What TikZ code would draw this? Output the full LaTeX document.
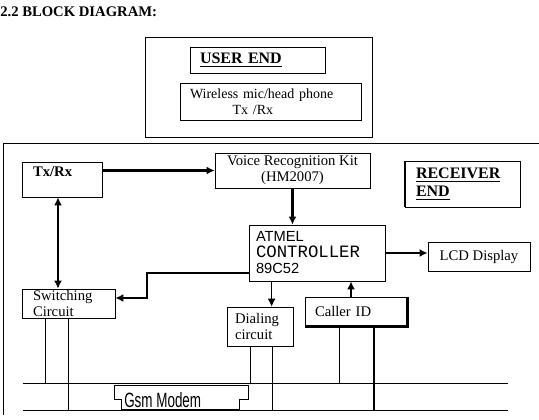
\documentclass[tikz,border=0pt]{standalone}
\usepackage{fontspec}
\usepackage{graphicx}
\setmainfont{Liberation Serif}
\newfontfamily\sansfnt{Liberation Sans}
\newfontfamily\monofnt{Liberation Mono}
\usetikzlibrary{arrows.meta,calc}
\begin{document}
\begin{tikzpicture}[x=0.75pt,y=-0.75pt]
\tikzset{blk/.style = {draw, line width=0.6pt, inner ysep=1pt, font=\fontsize{11}{12}\selectfont}}
\tikzset{wire/.style = {line width=0.6pt}}
\tikzset{link/.style = {line width=2.2pt, -{Latex[length=6pt,width=6pt]}}}
\tikzset{tlink/.style = {line width=0.7pt, -{Latex[length=6pt,width=6pt]}}}
\tikzset{dlink/.style = {line width=2.2pt, {Latex[length=6pt,width=6pt]}-{Latex[length=6pt,width=6pt]}}}
\useasboundingbox (0,0) rectangle (539,420);
% heading
\node[anchor=base west, inner sep=0pt, font=\fontsize{11}{13}\selectfont\bfseries] (title) at (0,17) {2.2 BLOCK DIAGRAM:};
% user end
\node[blk, minimum width=170.25pt, minimum height=75pt] (userframe) at (258.5,87) {};
\node[blk, font=\fontsize{12}{13}\selectfont\bfseries, align=left, text width=86.25pt, inner xsep=7.5pt, minimum height=19.5pt] (userlbl) at (257.5,60) {\underline{USER END}};
\node[blk, font=\fontsize{10.5}{12}\selectfont, align=left, text width=120.75pt, inner xsep=7.5pt, minimum height=27.75pt] (mic) at (270.5,101.5) {Wireless mic/head phone\\\hspace*{32pt}Tx /Rx};
% receiver end frame
\coordinate (fnw) at (3,143);
\coordinate (fne) at (539,143);
\coordinate (fsw) at (3,415);
\draw[wire] (fne) -- (fnw) -- (fsw);
% blocks of the receiver
\node[blk, align=left, text width=43.5pt, inner xsep=8.25pt, minimum height=26.25pt] (txrx) at (62,179.5) {\textbf{Tx/Rx}\\\mbox{}};
\node[blk, align=center, minimum width=116.25pt, minimum height=26.25pt] (voice) at (292.5,170.5) {Voice Recognition Kit\\(HM2007)};
\node[blk, font=\fontsize{12}{13.5}\selectfont\bfseries, align=left, text width=69.75pt, inner xsep=8.25pt, minimum height=34.5pt] (recv) at (462.5,184) {\underline{RECEIVER}\\\underline{END}};
\draw[line width=1.6pt] (recv.north west) -- (recv.south west);
\node[blk, align=left, text width=91.5pt, inner xsep=5.25pt, minimum height=42pt] (atmel) at (317,253) {{\sansfnt ATMEL}\\{\monofnt\fontsize{13}{12}\selectfont CONTROLLER}\\{\sansfnt 89C52}};
\node[blk, align=center, minimum width=76.5pt, minimum height=21.75pt] (lcd) at (479,256.5) {LCD Display};
\node[blk, align=left, text width=53.25pt, inner xsep=8.25pt, minimum height=21.75pt] (switch) at (68.5,303.5) {Switching\\Circuit};
\node[blk, align=left, text width=37.5pt, inner xsep=6pt, minimum height=29.25pt] (dial) at (260,326.5) {Dialing\\circuit};
\node[blk, align=left, text width=61.5pt, inner xsep=7.5pt, minimum height=21.75pt] (caller) at (356,311.5) {Caller ID};
\draw[line width=2pt] (caller.north east) -- (caller.south east) -- (caller.south west);
% arrows between blocks
\draw[link] (voice.west -| txrx.east) -- (voice.west);
\coordinate (tsx) at ($(txrx.south)+(-4,0)$);
\draw[dlink] (tsx) -- (tsx |- switch.north);
\draw[link] (voice.south) -- (voice.south |- atmel.north);
\draw[link] (atmel.east) -- (atmel.east -| lcd.west);
\coordinate (aw) at ($(atmel.south west)+(0,-8)$);
\coordinate (kink) at (147,298);
\draw[link, line width=1.6pt] (aw) -| (kink) -- (kink -| switch.east);
\coordinate (ad) at ($(atmel.south west)+(23,0)$);
\draw[tlink] (ad) -- (ad |- dial.north);
\coordinate (ca) at ($(caller.north)+(-5,0)$);
\draw[link, line width=1.5pt] (ca) -- (ca |- atmel.south);
% bus lines
\coordinate (busAw) at (23,383);
\coordinate (busAe) at (508,383);
\coordinate (busBw) at (23,410);
\coordinate (busBe) at (508,410);
\draw[wire] (busAw) -- (busAe);
\draw[wire] (busBw) -- (busBe);
\coordinate (s1) at ($(switch.south)+(-23.5,0)$);
\coordinate (s2) at (switch.south);
\coordinate (d1) at ($(dial.south)+(-10,0)$);
\coordinate (d2) at ($(dial.south)+(12,0)$);
\coordinate (c1) at ($(caller.south)+(-17,0)$);
\coordinate (c2) at ($(caller.south)+(18,0)$);
\draw[wire] (s1) -- (s1 |- busAw);
\draw[wire] (s2) -- (s2 |- busBw);
\draw[wire] (d1) -- (d1 |- busAw);
\draw[wire] (d2) -- (d2 |- busBw);
\draw[wire] (c1) -- (c1 |- busAw);
\draw[line width=1.6pt] (c2) -- (c2 |- busBw);
% gsm modem on the bus
\node[anchor=base west, inner sep=0pt] (gsm) at (124,407) {\scalebox{0.65}[1]{\sansfnt\fontsize{15.5}{16}\selectfont Gsm Modem}};
\draw[wire] (121,410) -- (121,399) -- (114,399) -- (114,385) -- (248,385) -- (248,399) -- (239,399) -- (239,410);
\draw[line width=1.6pt] (121,410) -- (239,410);
\end{tikzpicture}
\end{document}
